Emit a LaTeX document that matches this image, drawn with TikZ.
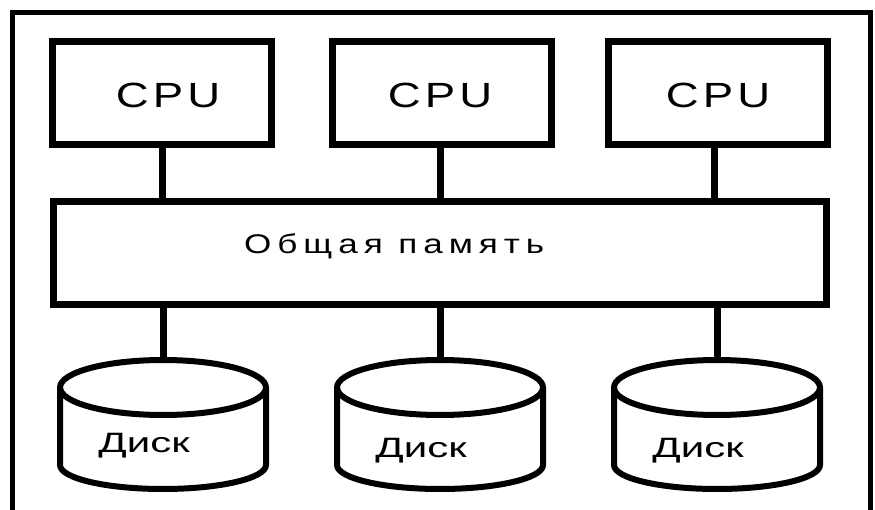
\documentclass[tikz,border=0pt]{standalone}
\usepackage{fontspec}
\newfontfamily\cpufont[FakeStretch=1.3,LetterSpace=12]{Liberation Sans}
\newfontfamily\memfont[FakeStretch=1.3,LetterSpace=22]{Liberation Sans}
\newfontfamily\diskfont[FakeStretch=1.5]{Liberation Sans}
\tikzset{
  box/.style={draw, line width=7pt, inner sep=0pt, minimum width=219pt, minimum height=103pt},
  membox/.style={draw, line width=7pt, inner sep=0pt, minimum width=773pt, minimum height=103pt},
  conn/.style={line width=7pt},
  cyl/.style={line width=6pt, line join=round},
  frame/.style={line width=5pt},
  cputext/.style={inner sep=0pt, anchor=base, font=\cpufont\fontsize{35}{40}\selectfont},
  memtext/.style={inner sep=0pt, anchor=base west, font=\memfont\fontsize{27}{32}\selectfont},
  disktext/.style={inner sep=0pt, anchor=base, font=\diskfont\fontsize{28}{32}\selectfont},
}
\begin{document}
\begin{tikzpicture}[x=1pt, y=-1pt]
\useasboundingbox (0,0) rectangle (875,510);
\fill[white] (0,0) rectangle (875,510);
% outer frame
\coordinate (fbl) at (12.5,515);
\coordinate (ftl) at (12.5,12.5);
\coordinate (ftr) at (870,12.5);
\coordinate (fbr) at (870,515);
\draw[frame] (fbl) -- (ftl) -- (ftr) -- (fbr);
% CPUs
\node[box] (cpu1) at (162,93) {};
\node[box] (cpu2) at (442,93) {};
\node[box] (cpu3) at (718,93) {};
\node[cputext] (t1) at (168,108) {CPU};
\node[cputext] (t2) at (440,108) {CPU};
\node[cputext] (t3) at (718,108) {CPU};
% memory
\node[membox] (mem) at (440,253) {};
\node[memtext] (mt) at (244,254) {Общая память};
% connectors cpu-mem
\draw[conn] (cpu1.south) -- (cpu1.south |- mem.north);
\draw[conn] (cpu2.south) ++(-2,0) coordinate (c2) -- (c2 |- mem.north);
\draw[conn] (cpu3.south) ++(-4,0) coordinate (c3) -- (c3 |- mem.north);
% disks
\foreach \cx/\nm/\base in {163/disk1/452, 440/disk2/457, 717/disk3/457}{
  \draw[cyl] (\cx,387.5) ellipse [x radius=103, y radius=27.5];
  \draw[cyl] (\cx-103,387.5) -- (\cx-103,465) arc[start angle=180, end angle=0, x radius=103, y radius=24] -- (\cx+103,387.5);
  \coordinate (\nm) at (\cx,360);
  \node[disktext] (\nm t) at (\cx-19,\base) {Диск};
}
% connectors mem-disk
\draw[conn] (disk1 |- mem.south) -- (disk1);
\draw[conn] (disk2 |- mem.south) -- (disk2);
\draw[conn] (disk3 |- mem.south) -- (disk3);
\end{tikzpicture}
\end{document}
